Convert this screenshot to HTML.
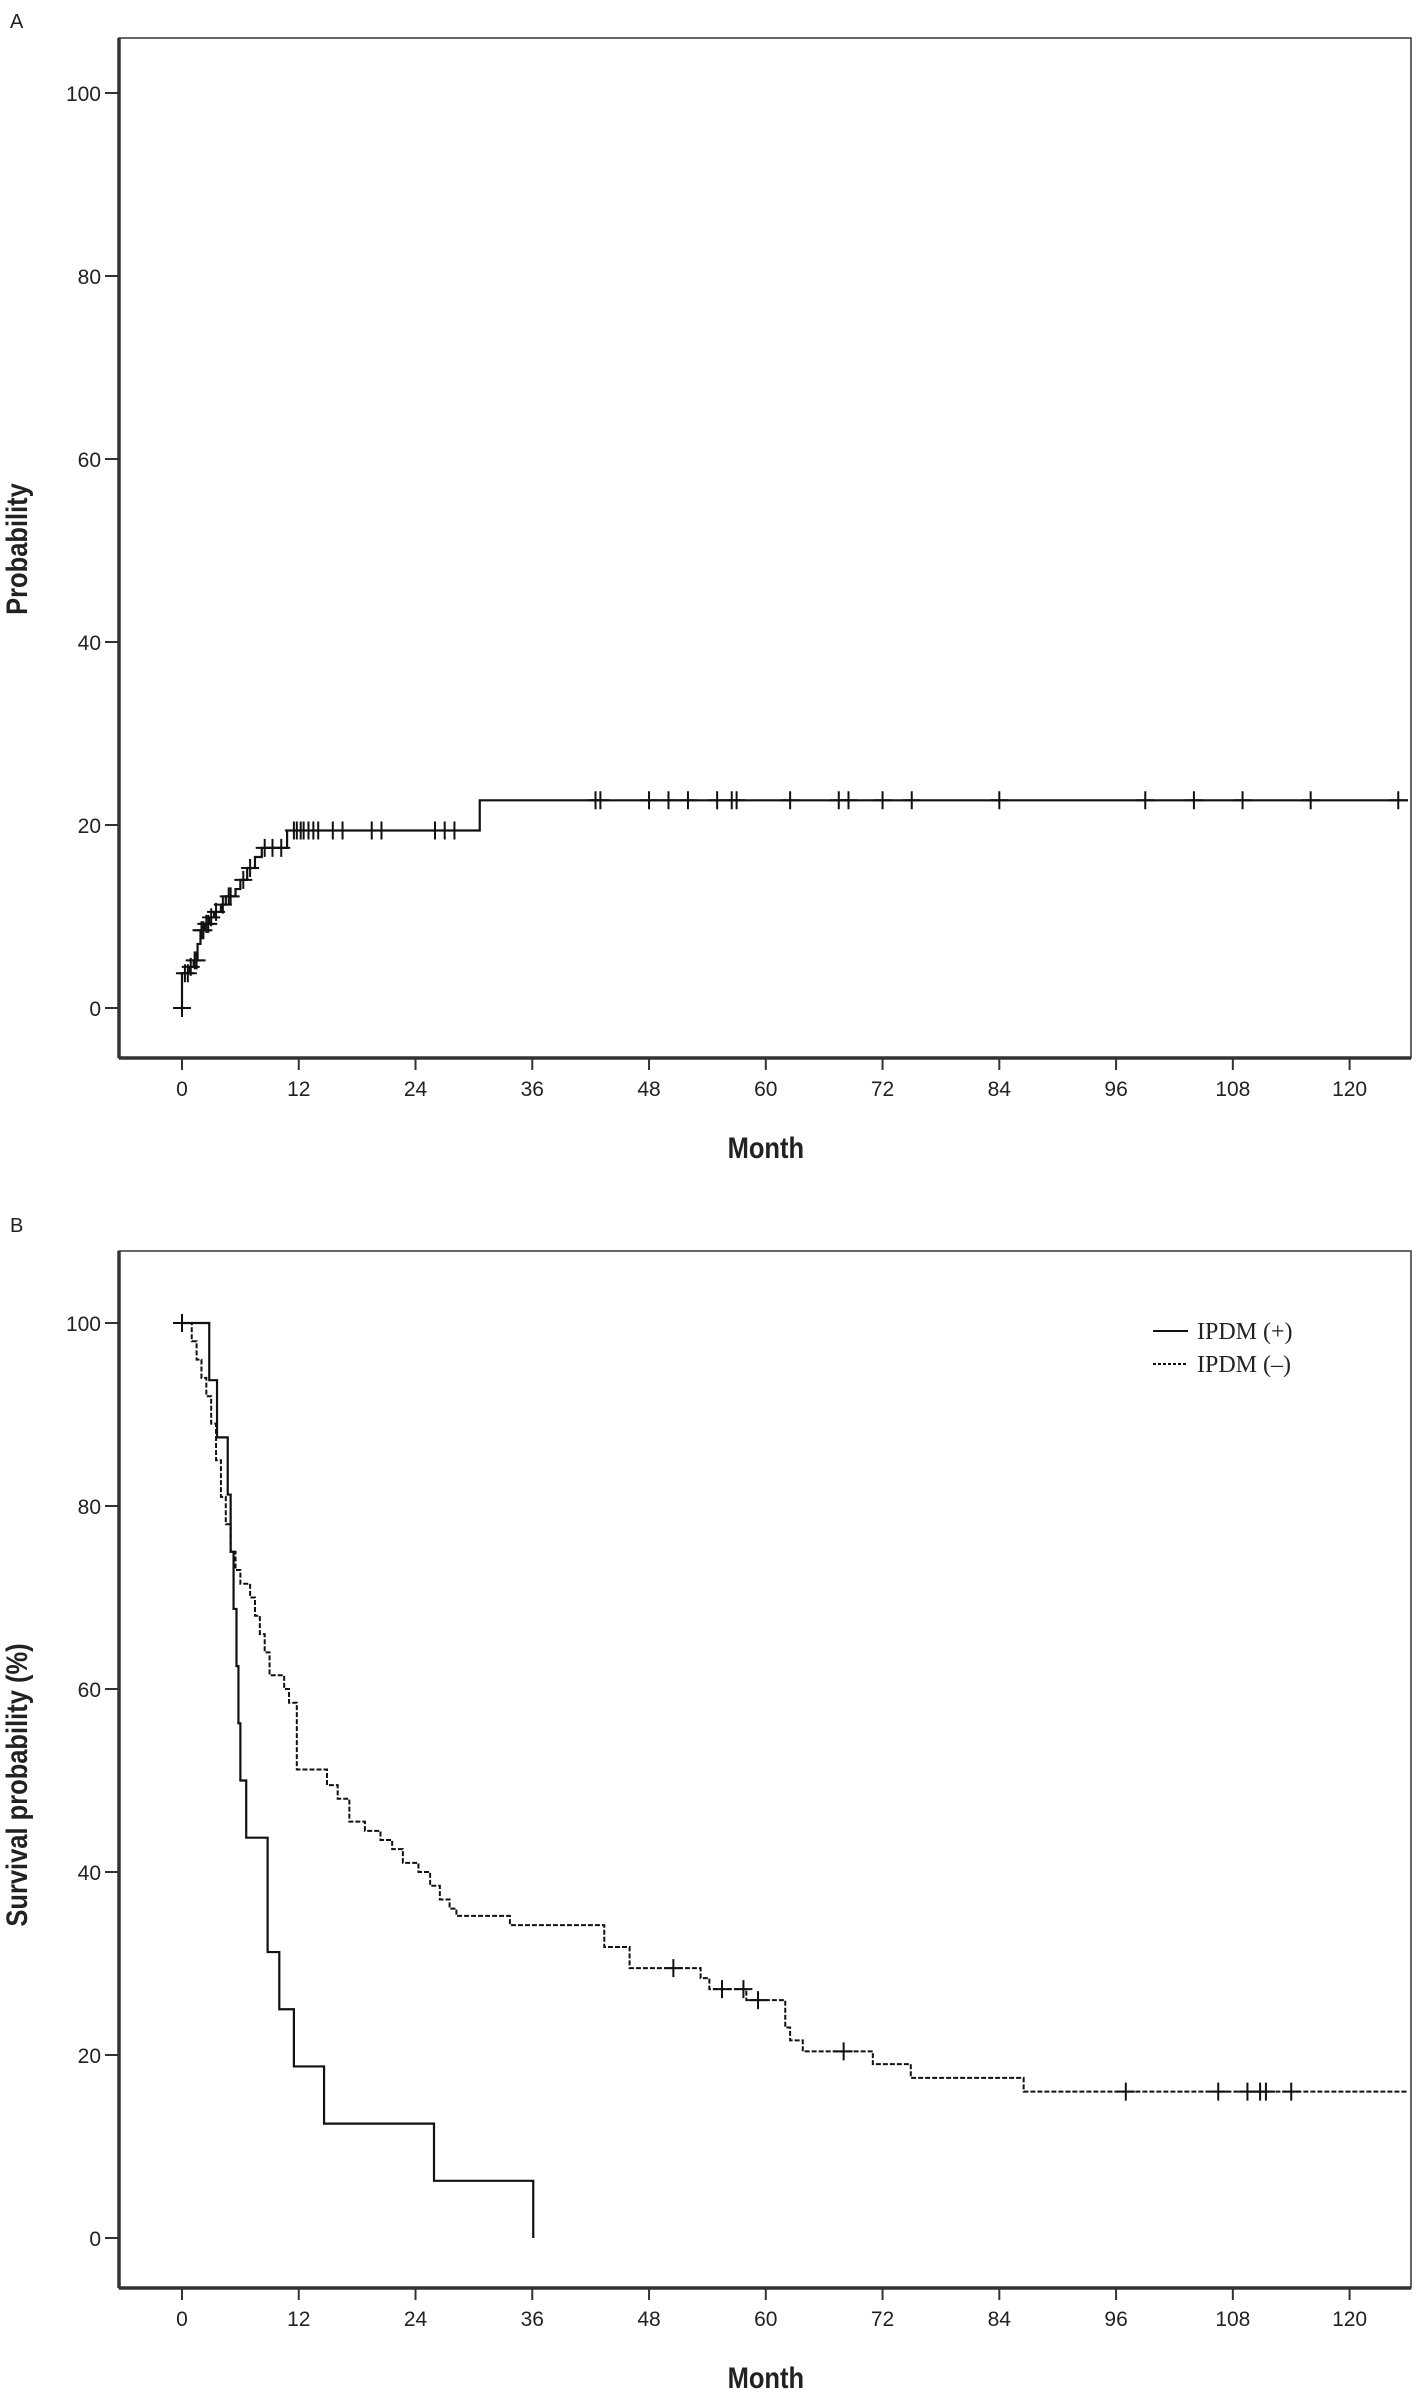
<!DOCTYPE html>
<html><head><meta charset="utf-8"><style>
html,body{margin:0;padding:0;background:#fff;}
svg{display:block;}
text{font-family:"Liberation Sans",Arial,sans-serif;fill:#222;}
</style></head><body>
<svg id="chart" width="1417" height="2392" viewBox="0 0 1417 2392" xmlns="http://www.w3.org/2000/svg">
<text x="10" y="28" font-size="20">A</text>
<text x="10" y="1232" font-size="20">B</text>
<g id="gA"></g>
<g id="gB"></g>
</svg>
<script>
// ---- data ----
const xTicks = [0,12,24,36,48,60,72,84,96,108,120];
const yTicks = [0,20,40,60,80,100];
// Panel A cumulative probability (events)
const aEventTimes = [0,0.8,1.2,1.6,1.9,2.3,2.8,3.3,4,4.5,5.5,6,6.7,7.5,8.2,10.8,30.6];
const aEventValues = [3.8,4.5,5.2,7,8.5,9.2,9.9,10.5,11.3,12.2,13,14,15.3,16.5,17.5,19.4,22.7];
const aCensorTimes = [0.3,0.6,0.9,1.3,1.5,2,2.2,2.5,2.7,3,3.5,4.2,4.8,5,6.3,7,8.5,9.3,10.2,11.5,11.8,12.2,12.5,13,13.5,14,15.5,16.5,19.5,20.5,26,27,28,42.5,43,48,50,52,55,56.5,57,62.5,67.5,68.5,72,75,84,99,104,109,116,125];
// Panel B IPDM(+)
const posTimes = [2.8,3.6,4.7,5.0,5.3,5.6,5.8,6.0,6.6,8.8,10.0,11.5,14.6,25.9,36.1];
const posValues = [93.75,87.5,81.25,75,68.75,62.5,56.25,50,43.75,31.25,25,18.75,12.5,6.25,0];
// Panel B IPDM(-)
const negTimes = [1,1.5,2,2.5,3,3.5,4,4.5,5,5.5,6,7,7.5,8,8.5,9,10.5,11,11.8,14.9,16,17.2,18.8,20.4,21.6,22.7,24.3,25.5,26.5,27.5,28.2,33.7,43.4,46,53.3,54.2,58,62,62.5,63.8,71,74.9,86.5];
const negValues = [98,96,94,92,89,85,81,78,75,73,71.5,70,68,66,64,61.5,60,58.5,51.2,49.5,48,45.5,44.5,43.5,42.5,41,40,38.5,37,36,35.2,34.2,31.8,29.5,28.4,27.2,26,23,21.6,20.4,19,17.5,16];
const negCensorTimes = [50.5,55.5,57.7,59.2,68,97,106.5,109.5,110.8,111.4,114];
const negEnd = 126;

const NS="http://www.w3.org/2000/svg";
function mk(tag,attrs,parent){const e=document.createElementNS(NS,tag);for(const k in attrs)e.setAttribute(k,attrs[k]);parent.appendChild(e);return e;}

function panel(g,cfg){
  const X=t=>cfg.x0+t*9.73;
  const Y=v=>cfg.y0-v*(cfg.y0-cfg.y100)/100;
  // frame
  const fr=mk('rect',{x:cfg.left,y:cfg.top,width:cfg.right-cfg.left,height:cfg.bottom-cfg.top,fill:'none',stroke:'#333','stroke-width':1.5},g);
  
  
  const ya=mk('line',{x1:cfg.left,y1:cfg.top,x2:cfg.left,y2:cfg.bottom,stroke:'#333','stroke-width':3.5},g);
  
  
  const xa=mk('line',{x1:cfg.left,y1:cfg.bottom,x2:cfg.right,y2:cfg.bottom,stroke:'#333','stroke-width':3.5},g);
  
  
  xTicks.forEach(t=>{
    const l=mk('line',{x1:X(t),y1:cfg.bottom,x2:X(t),y2:cfg.bottom+12,stroke:'#333','stroke-width':2},g);
    
    
    const tx=mk('text',{x:X(t),y:cfg.bottom+38,'font-size':21,'text-anchor':'middle'},g);tx.textContent=t;
    
    
  });
  yTicks.forEach(v=>{
    const l=mk('line',{x1:cfg.left-14,y1:Y(v),x2:cfg.left,y2:Y(v),stroke:'#333','stroke-width':2},g);
    
    
    const tx=mk('text',{x:cfg.left-18,y:Y(v)+8,'font-size':21,'text-anchor':'end'},g);tx.textContent=v;
    
    
  });
  const xl=mk('text',{x:0,y:0,'font-size':30,'font-weight':'bold','text-anchor':'middle',transform:`translate(${X(60)},${cfg.bottom+100}) scale(0.85,1)`},g);xl.textContent='Month';
  
  
  const yl=mk('text',{x:0,y:0,'font-size':30,'font-weight':'bold','text-anchor':'middle',transform:`translate(27,${cfg.ylabY}) rotate(-90) scale(0.85,1)`},g);yl.textContent=cfg.ylab;
  
  
  return {X,Y};
}
function stepPath(X,Y,startV,times,vals,endT){
  let d=`M${X(0)},${Y(startV)}`;let cur=startV;
  times.forEach((t,i)=>{d+=` H${X(t)} V${Y(vals[i])}`;cur=vals[i];});
  if(endT!==null)d+=` H${X(endT)}`;
  return d;
}
function valueAt(t,start,times,vals){let v=start;for(let i=0;i<times.length;i++){if(times[i]<=t)v=vals[i];}return v;}
function cross(g,X,Y,t,v,name){
  const c=mk('path',{d:`M${X(t)-9},${Y(v)} H${X(t)+9} M${X(t)},${Y(v)-9} V${Y(v)+9}`,stroke:'#111','stroke-width':2,fill:'none'},g);
  
  
}

// Panel A
const gA=document.getElementById('gA');
const A=panel(gA,{x0:182,y0:1008,y100:93,left:119,right:1411,top:38,bottom:1058,ylab:'Probability',ylabY:549});
const pa=mk('path',{d:stepPath(A.X,A.Y,0,aEventTimes,aEventValues,126),stroke:'#111','stroke-width':2.2,fill:'none'},gA);


cross(gA,A.X,A.Y,0,0,'censor-mark');
aCensorTimes.forEach(t=>cross(gA,A.X,A.Y,t,valueAt(t,0,aEventTimes,aEventValues),'censor-mark'));

// Panel B
const gB=document.getElementById('gB');
const B=panel(gB,{x0:182,y0:2238,y100:1323,left:119,right:1411,top:1251,bottom:2288,ylab:'Survival probability (%)',ylabY:1785});
const pn=mk('path',{d:stepPath(B.X,B.Y,100,negTimes,negValues,negEnd),stroke:'#111','stroke-width':2,fill:'none','stroke-dasharray':'5,2'},gB);


const pp=mk('path',{d:stepPath(B.X,B.Y,100,posTimes,posValues,null),stroke:'#111','stroke-width':2.2,fill:'none'},gB);


cross(gB,B.X,B.Y,0,100,'censor-mark');
negCensorTimes.forEach(t=>cross(gB,B.X,B.Y,t,valueAt(t,100,negTimes,negValues),'censor-mark'));

// legend
const lg=mk('g',{},gB);


const l1=mk('line',{x1:1153,y1:1331,x2:1188,y2:1331,stroke:'#111','stroke-width':2},lg);


const t1=mk('text',{x:1197,y:1339,'font-size':24,style:'font-family:"Liberation Serif",serif'},lg);t1.textContent='IPDM (+)';


const l2=mk('line',{x1:1153,y1:1364,x2:1188,y2:1364,stroke:'#111','stroke-width':2,'stroke-dasharray':'3,2'},lg);


const t2=mk('text',{x:1197,y:1372,'font-size':24,style:'font-family:"Liberation Serif",serif'},lg);t2.textContent='IPDM (–)';


</script>
</body></html>
